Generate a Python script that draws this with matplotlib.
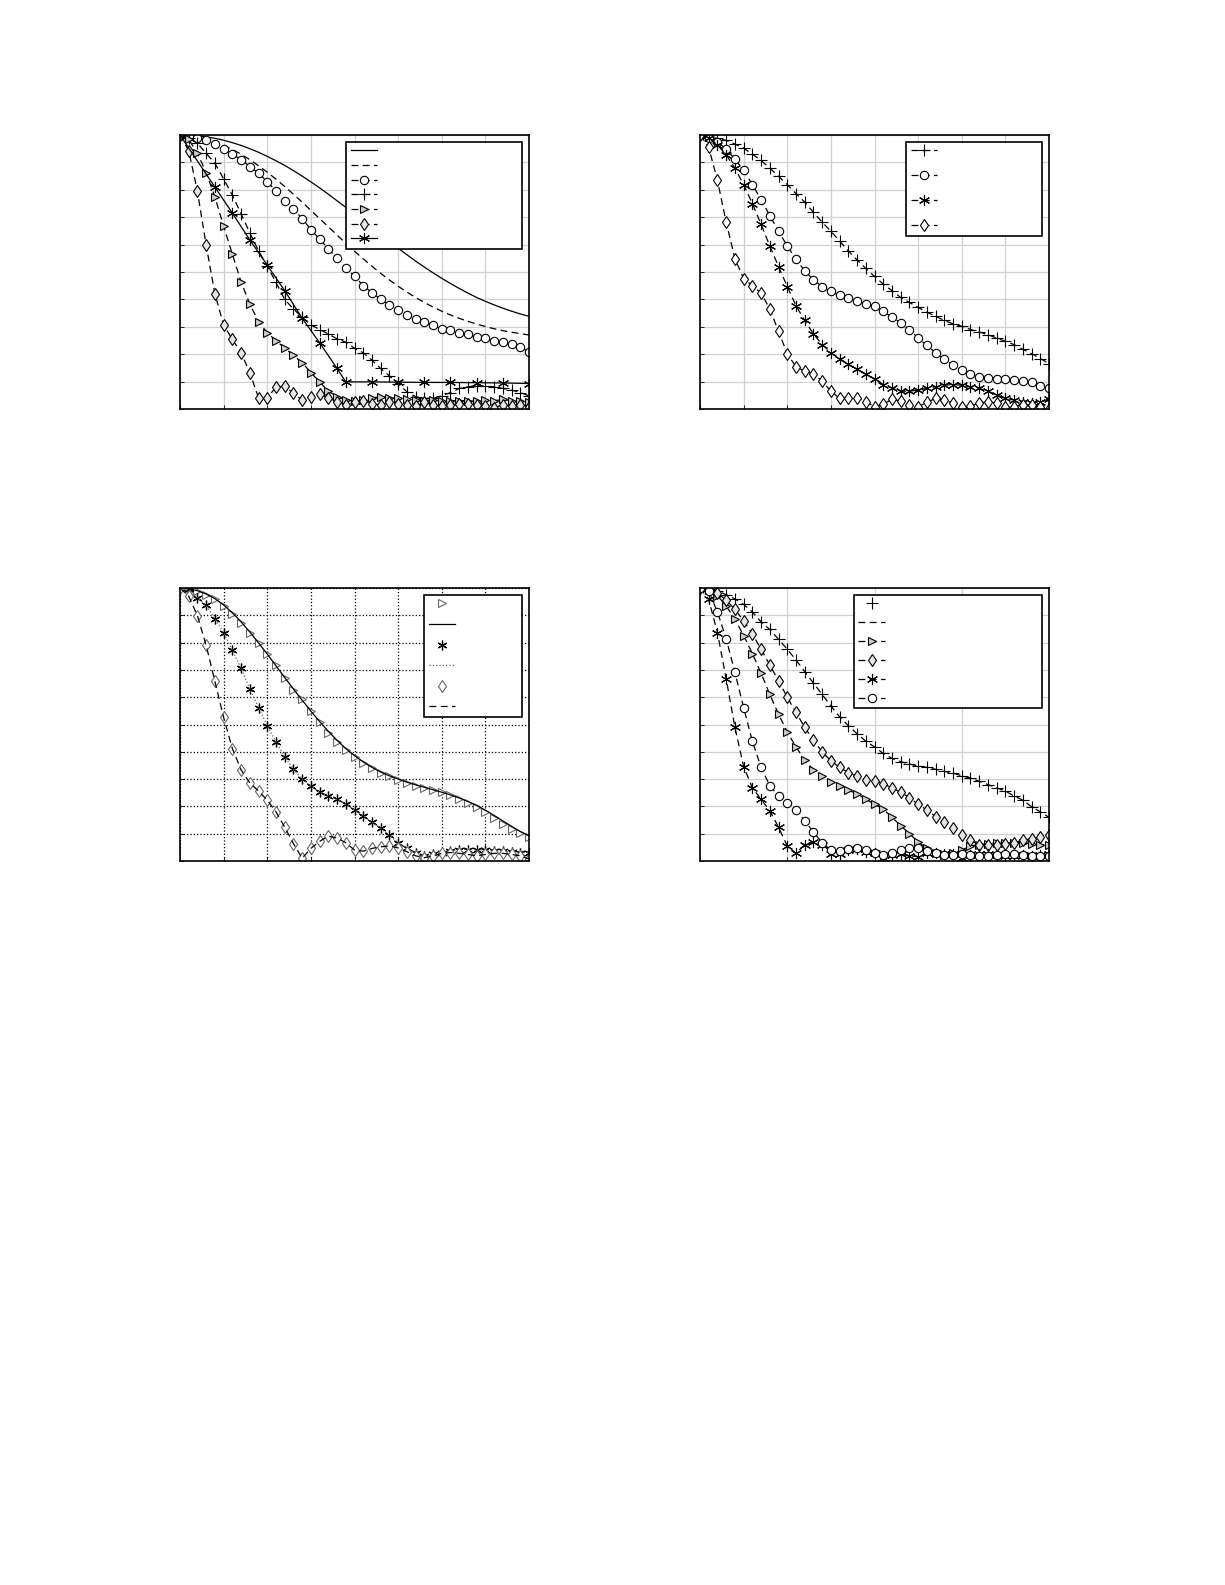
import matplotlib
matplotlib.use("Agg")
import matplotlib.pyplot as plt
import numpy as np

plt.rcParams['lines.dashed_pattern'] = [5.5, 3.5]

x = np.arange(41)

# top-left panel
tl_solid = [1, 0.999, 0.997, 0.993, 0.988, 0.981, 0.972, 0.962, 0.950, 0.937, 0.922, 0.906, 0.889,
            0.870, 0.850, 0.829, 0.807, 0.784, 0.760, 0.736, 0.711, 0.686, 0.661, 0.636, 0.611,
            0.587, 0.563, 0.540, 0.518, 0.497, 0.477, 0.458, 0.440, 0.423, 0.407, 0.393, 0.380,
            0.368, 0.357, 0.347, 0.338]
tl_dash = [1, 0.998, 0.993, 0.985, 0.975, 0.962, 0.947, 0.930, 0.910, 0.888, 0.864, 0.839, 0.812,
           0.784, 0.755, 0.725, 0.695, 0.665, 0.635, 0.605, 0.576, 0.548, 0.521, 0.495, 0.471,
           0.448, 0.427, 0.407, 0.389, 0.372, 0.357, 0.343, 0.331, 0.320, 0.310, 0.301, 0.293,
           0.286, 0.280, 0.275, 0.270]
tl_circ = [1, 0.996, 0.99, 0.98, 0.967, 0.95, 0.93, 0.91, 0.885, 0.86, 0.83, 0.795, 0.76, 0.73,
           0.695, 0.655, 0.62, 0.585, 0.55, 0.515, 0.485, 0.45, 0.425, 0.40, 0.38, 0.363, 0.343,
           0.33, 0.317, 0.305, 0.293, 0.287, 0.278, 0.272, 0.262, 0.259, 0.25, 0.244, 0.237,
           0.226, 0.208]
tl_plus = [1, 0.988, 0.97, 0.933, 0.897, 0.84, 0.78, 0.713, 0.643, 0.577, 0.522, 0.462, 0.40,
           0.365, 0.335, 0.307, 0.29, 0.274, 0.256, 0.244, 0.222, 0.205, 0.178, 0.148, 0.121,
           0.093, 0.063, 0.045, 0.039, 0.039, 0.048, 0.06, 0.075, 0.081, 0.085, 0.083, 0.081,
           0.075, 0.069, 0.06, 0.048]
tl_tri = [1, 0.984, 0.933, 0.863, 0.774, 0.667, 0.565, 0.464, 0.383, 0.319, 0.278, 0.25, 0.222,
          0.196, 0.169, 0.133, 0.099, 0.065, 0.045, 0.033, 0.029, 0.034, 0.041, 0.044, 0.041,
          0.039, 0.036, 0.034, 0.031, 0.033, 0.029, 0.03, 0.031, 0.03, 0.028, 0.032, 0.03, 0.035,
          0.03, 0.03, 0.025]
tl_diam = [1, 0.943, 0.794, 0.597, 0.42, 0.307, 0.254, 0.206, 0.133, 0.041, 0.039, 0.081, 0.083,
           0.057, 0.033, 0.045, 0.053, 0.039, 0.027, 0.015, 0.025, 0.03, 0.02, 0.015, 0.025, 0.02,
           0.015, 0.01, 0.025, 0.015, 0.01, 0.015, 0.02, 0.02, 0.015, 0.01, 0.005, 0.015, 0.01,
           0.015, 0.008]
tl_star_x = [0, 4, 6, 8, 10, 12, 14, 16, 18, 19, 22, 25, 28, 31, 34, 37, 40]
tl_star_y = [1, 0.81, 0.715, 0.617, 0.525, 0.432, 0.331, 0.242, 0.148, 0.099, 0.099, 0.098,
             0.097, 0.097, 0.096, 0.095, 0.093]

# top-right panel
tr_plus = [1, 0.99, 0.988, 0.98, 0.967, 0.952, 0.93, 0.907, 0.879, 0.849, 0.819, 0.786, 0.755,
           0.718, 0.682, 0.649, 0.613, 0.577, 0.544, 0.513, 0.484, 0.456, 0.432, 0.407, 0.389,
           0.371, 0.353, 0.339, 0.323, 0.311, 0.302, 0.29, 0.281, 0.271, 0.259, 0.247, 0.235,
           0.218, 0.202, 0.184, 0.166]
tr_circ = [1, 0.99, 0.976, 0.948, 0.912, 0.871, 0.819, 0.764, 0.706, 0.649, 0.595, 0.547, 0.504,
           0.472, 0.446, 0.429, 0.416, 0.404, 0.395, 0.383, 0.375, 0.357, 0.335, 0.314, 0.29,
           0.259, 0.232, 0.206, 0.181, 0.162, 0.141, 0.129, 0.117, 0.114, 0.111, 0.109, 0.105,
           0.103, 0.097, 0.085, 0.075]
tr_star = [1, 0.99, 0.964, 0.927, 0.879, 0.819, 0.75, 0.674, 0.595, 0.52, 0.447, 0.377, 0.323,
           0.274, 0.235, 0.206, 0.181, 0.163, 0.145, 0.126, 0.109, 0.089, 0.077, 0.065, 0.065,
           0.069, 0.075, 0.081, 0.087, 0.089, 0.087, 0.081, 0.075, 0.065, 0.051, 0.039, 0.033,
           0.024, 0.021, 0.027, 0.036]
tr_diam = [1, 0.955, 0.834, 0.682, 0.549, 0.476, 0.45, 0.423, 0.365, 0.283, 0.202, 0.154, 0.138,
           0.129, 0.102, 0.065, 0.039, 0.041, 0.041, 0.027, 0.008, 0.017, 0.036, 0.029, 0.015,
           0.008, 0.024, 0.039, 0.033, 0.021, 0.008, 0.012, 0.021, 0.027, 0.021, 0.008, 0.008,
           0.015, 0.015, 0.008, 0.0]

# bottom-left panel
bl_tri = [1, 0.996, 0.988, 0.976, 0.96, 0.934, 0.904, 0.872, 0.836, 0.8, 0.76, 0.718, 0.672,
          0.628, 0.592, 0.55, 0.508, 0.468, 0.436, 0.406, 0.382, 0.358, 0.34, 0.322, 0.31, 0.298,
          0.286, 0.276, 0.268, 0.259, 0.252, 0.24, 0.226, 0.214, 0.196, 0.178, 0.156, 0.136,
          0.118, 0.103, 0.088]
bl_solid = [1, 0.997, 0.99, 0.978, 0.961, 0.938, 0.909, 0.876, 0.839, 0.799, 0.758, 0.715, 0.672,
            0.630, 0.589, 0.549, 0.511, 0.475, 0.442, 0.412, 0.386, 0.363, 0.343, 0.326, 0.312,
            0.300, 0.289, 0.279, 0.270, 0.261, 0.252, 0.242, 0.231, 0.218, 0.203, 0.186, 0.167,
            0.147, 0.127, 0.108, 0.092]
bl_star = [1, 0.996, 0.964, 0.936, 0.888, 0.836, 0.772, 0.706, 0.631, 0.562, 0.496, 0.436, 0.382,
           0.336, 0.3, 0.274, 0.252, 0.238, 0.226, 0.208, 0.187, 0.166, 0.142, 0.12, 0.094, 0.067,
           0.046, 0.028, 0.019, 0.024, 0.031, 0.036, 0.042, 0.042, 0.042, 0.04, 0.036, 0.036,
           0.034, 0.031, 0.031]
bl_diam = [1, 0.97, 0.898, 0.79, 0.658, 0.526, 0.412, 0.334, 0.286, 0.256, 0.223, 0.18, 0.124,
           0.064, 0.01, 0.046, 0.072, 0.091, 0.084, 0.067, 0.04, 0.036, 0.046, 0.052, 0.055,
           0.048, 0.034, 0.019, 0.012, 0.019, 0.028, 0.031, 0.028, 0.024, 0.019, 0.024, 0.028,
           0.028, 0.024, 0.019, 0.007]

# bottom-right panel
br_plus = [1, 0.996, 0.988, 0.976, 0.96, 0.94, 0.912, 0.876, 0.848, 0.812, 0.776, 0.736, 0.694,
           0.652, 0.61, 0.568, 0.528, 0.496, 0.466, 0.439, 0.418, 0.394, 0.376, 0.364, 0.355,
           0.348, 0.343, 0.336, 0.328, 0.322, 0.312, 0.304, 0.292, 0.28, 0.268, 0.256, 0.238,
           0.223, 0.199, 0.18, 0.16]
br_tri = [1, 0.994, 0.972, 0.934, 0.886, 0.826, 0.76, 0.688, 0.61, 0.538, 0.472, 0.418, 0.37,
          0.334, 0.31, 0.288, 0.274, 0.259, 0.247, 0.226, 0.208, 0.19, 0.16, 0.13, 0.1, 0.07,
          0.046, 0.028, 0.022, 0.028, 0.04, 0.055, 0.06, 0.064, 0.067, 0.067, 0.067, 0.067,
          0.064, 0.06, 0.06]
br_diam = [1, 0.994, 0.98, 0.956, 0.922, 0.88, 0.832, 0.776, 0.718, 0.66, 0.6, 0.544, 0.49,
           0.442, 0.4, 0.367, 0.343, 0.324, 0.31, 0.298, 0.292, 0.283, 0.268, 0.252, 0.232, 0.208,
           0.187, 0.163, 0.142, 0.12, 0.096, 0.076, 0.06, 0.058, 0.06, 0.064, 0.067, 0.076,
           0.082, 0.088, 0.094]
br_star = [1, 0.958, 0.836, 0.667, 0.49, 0.346, 0.268, 0.226, 0.184, 0.124, 0.055, 0.028, 0.06,
           0.07, 0.06, 0.024, 0.024, 0.04, 0.043, 0.034, 0.028, 0.01, 0.022, 0.024, 0.019, 0.016,
           0.028, 0.028, 0.024, 0.024, 0.01, 0.022, 0.025, 0.025, 0.022, 0.02, 0.02, 0.022, 0.02,
           0.022, 0.025]
br_circ = [1, 0.988, 0.912, 0.814, 0.691, 0.562, 0.439, 0.343, 0.276, 0.238, 0.214, 0.187, 0.148,
           0.106, 0.067, 0.04, 0.036, 0.043, 0.048, 0.04, 0.028, 0.022, 0.028, 0.04, 0.048, 0.046,
           0.036, 0.028, 0.022, 0.022, 0.024, 0.022, 0.02, 0.02, 0.022, 0.024, 0.024, 0.022, 0.02,
           0.018, 0.018]

LW = 0.9
MS = 6
STAR = (6, 2, 0)
BLANK = "\u2007"


def style_axes(ax, xstep, gridstyle):
    ax.set_xlim(0, 40)
    ax.set_ylim(0, 1)
    ax.set_xticks(np.arange(0, 41, xstep))
    ax.set_yticks(np.arange(0, 1.01, 0.1))
    ax.tick_params(direction="in", labelbottom=False, labelleft=False, length=3, width=0.6)
    if gridstyle == "dotted":
        ax.grid(True, color="black", linestyle=":", linewidth=0.9)
    else:
        ax.grid(True, color="#d0d0d0", linestyle="-", linewidth=0.9)
    for s in ax.spines.values():
        s.set_linewidth(1.2)


def add_legend(ax, handles, x0, y0, w, spacing, nchar):
    labels = [BLANK * nchar] * len(handles)
    leg = ax.legend(handles, labels, loc="upper left", bbox_to_anchor=(x0, y0, w, 0),
                    mode="expand", fontsize=8, labelspacing=spacing, handlelength=2.4,
                    fancybox=False, framealpha=1, edgecolor="black", borderpad=0.4)
    leg.get_frame().set_linewidth(1.2)


def mk(ax, xs, ys, marker, ls="--", fc="white", ms=MS):
    return ax.plot(xs, ys, linestyle=ls, color="black", linewidth=LW, marker=marker,
                   markersize=ms, markerfacecolor=fc, markeredgecolor="black",
                   markeredgewidth=0.8)[0]


fig = plt.figure(figsize=(12.25, 15.85), dpi=100)
W, H = 1225, 1585


def axes_at(left, top, right, bottom):
    return fig.add_axes([left / W, 1 - bottom / H, (right - left) / W, (bottom - top) / H])


# top-left
ax = axes_at(180, 135, 529, 409)
style_axes(ax, 5, "solid")
h1 = ax.plot(x, tl_solid, "-", color="black", linewidth=LW)[0]
h2 = ax.plot(x, tl_dash, "--", color="black", linewidth=LW)[0]
h3 = mk(ax, x, tl_circ, "o")
h4 = mk(ax, x, tl_plus, "+", ms=8)
h5 = mk(ax, x, tl_tri, ">", fc="0.8")
h6 = mk(ax, x, tl_diam, "d", fc="0.9")
h7 = mk(ax, tl_star_x, tl_star_y, STAR, ls="-", ms=8)
add_legend(ax, [h1, h2, h3, h4, h5, h6, h7], 0.46, 0.995, 0.535, 0.42, 14)

# top-right
ax = axes_at(700, 135, 1049, 409)
style_axes(ax, 5, "solid")
g1 = mk(ax, x, tr_plus, "+", ms=8)
g2 = mk(ax, x, tr_circ, "o")
g3 = mk(ax, x, tr_star, STAR, ms=8)
g4 = mk(ax, x, tr_diam, "d")
add_legend(ax, [g1, g2, g3, g4], 0.575, 0.995, 0.42, 1.35, 8)

# bottom-left
ax = axes_at(180, 588, 529, 861)
style_axes(ax, 5, "dotted")
k1 = ax.plot(x, bl_tri, ">", markersize=MS, markerfacecolor="white",
             markeredgecolor="0.4", markeredgewidth=0.8, linestyle="none")[0]
k2 = ax.plot(x, bl_solid, "-", color="black", linewidth=LW)[0]
k3 = ax.plot(x, bl_star, linestyle="none", marker=STAR, color="black", markersize=7,
             markeredgewidth=0.9)[0]
k4 = ax.plot(x, bl_star, ":", color="0.4", linewidth=LW)[0]
k5 = ax.plot(x, bl_diam, "d", markersize=MS, markerfacecolor="white",
             markeredgecolor="0.4", markeredgewidth=0.8, linestyle="none")[0]
k6 = ax.plot(x, bl_diam, "--", color="black", linewidth=LW)[0]
add_legend(ax, [k1, k2, k3, k4, k5, k6], 0.684, 0.995, 0.311, 0.95, 4)

# bottom-right
ax = axes_at(700, 588, 1049, 861)
style_axes(ax, 10, "solid")
m1 = ax.plot(x, br_plus, "+", color="black", markersize=8, markeredgewidth=0.8,
             linestyle="none")[0]
m2 = ax.plot(x, br_plus, "--", color="black", linewidth=LW)[0]
m3 = mk(ax, x, br_tri, ">", fc="0.8")
m4 = mk(ax, x, br_diam, "d", fc="0.9")
m5 = mk(ax, x, br_star, STAR, ms=8)
m6 = mk(ax, x, br_circ, "o")
add_legend(ax, [m1, m2, m3, m4, m5, m6], 0.425, 0.995, 0.57, 0.8, 12)

fig.savefig("out.png", dpi=100, facecolor="white")
